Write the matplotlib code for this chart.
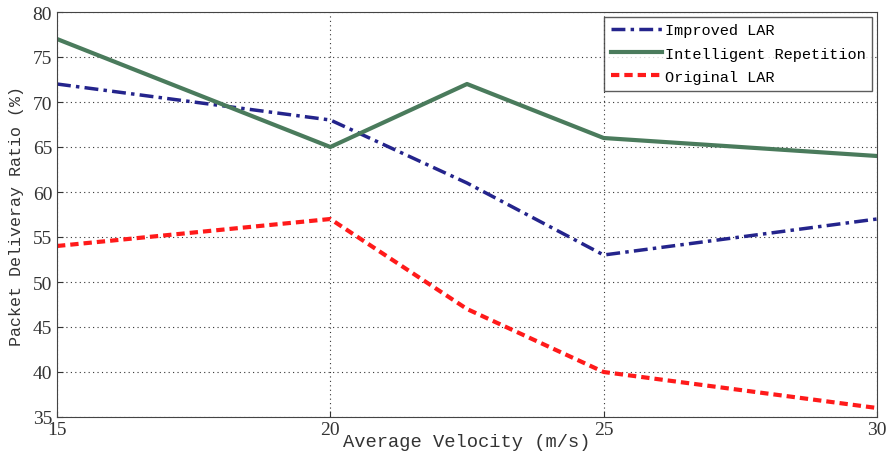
import matplotlib
matplotlib.use("Agg")
import matplotlib.pyplot as plt

# data
velocity = [15, 20, 22.5, 25, 30]
improved_lar = [72, 68, 61, 53, 57]
intelligent_rep = [77, 65, 72, 66, 64]
original_lar = [54, 57, 47, 40, 36]

labels = ['Improved LAR', 'Intelligent Repetition', 'Original LAR']
xticks = [15, 20, 25, 30]
yticks = list(range(35, 81, 5))

mono = 'Liberation Mono'
serif = 'Liberation Serif'

fig = plt.figure(figsize=(8.88, 4.6), dpi=100)
ax = fig.add_axes([57/888, 42/460, 820/888, 405/460])

ax.plot(velocity, improved_lar, color='#24248c', ls=(0, (4, 1.5, 1, 1.5)), lw=2.5, label=labels[0])
ax.plot(velocity, intelligent_rep, color='#4a7b5c', ls='-', lw=3, label=labels[1])
ax.plot(velocity, original_lar, color='#ff1a1a', ls=(0, (2, 1.2)), lw=3, label=labels[2])

ax.set_xlim(15, 30)
ax.set_ylim(35, 80)
ax.set_xticks(xticks)
ax.set_yticks(yticks)
ax.grid(True, color='#333333', ls=(0, (1, 3)), lw=0.8)
ax.tick_params(direction='in', length=4, labelsize=14, colors='#333333')
for t in ax.get_xticklabels() + ax.get_yticklabels():
    t.set_fontfamily(serif)
ax.tick_params(axis='x', pad=3)
for s in ax.spines.values():
    s.set_color('#444444')

ax.set_xlabel('Average Velocity (m/s)', fontfamily=mono, fontsize=13.5, color='#333333', labelpad=-4)
ax.set_ylabel('Packet Deliveray Ratio (%)', fontfamily=mono, fontsize=12, color='#333333', labelpad=6)

leg = ax.legend(loc='upper right', prop={'family': mono, 'size': 11}, frameon=True,
                fancybox=False, edgecolor='#333333', handlelength=3.3, handletextpad=0.2,
                borderaxespad=0.3, labelspacing=0.6, borderpad=0.45)
leg.get_frame().set_linewidth(1)

fig.savefig('out.png', dpi=100)
